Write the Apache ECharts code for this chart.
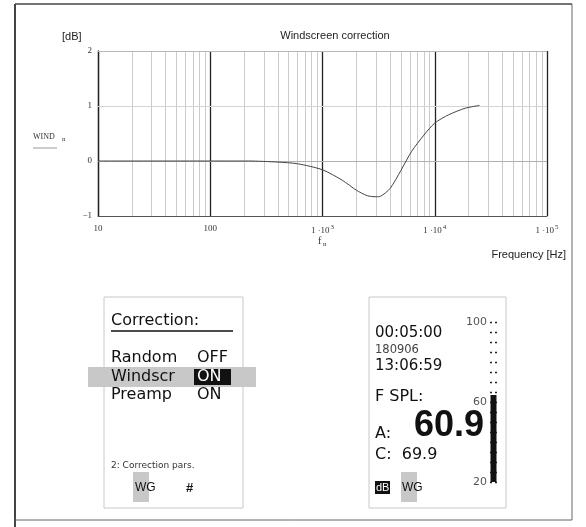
<!DOCTYPE html>
<html><head><meta charset="utf-8">
<script src="https://cdn.jsdelivr.net/npm/echarts@6/dist/echarts.min.js"></script>
<style>html,body{margin:0;padding:0;background:#fff}#c{width:586px;height:527px}</style>
</head><body><div id="c"></div>
<script>
// ---- data ----
const freqHz = [10, 100, 220, 400, 600, 1000, 1500, 2000, 2500, 3000, 3300, 4000, 5000, 6200, 8000, 10000, 13300, 18700, 25000];
const windDb = [0, 0, 0, -0.02, -0.05, -0.16, -0.35, -0.53, -0.63, -0.65, -0.64, -0.50, -0.17, 0.17, 0.47, 0.69, 0.84, 0.96, 1.01];
const minorGridHz = [20,30,40,50,60,70,80,90, 200,300,400,500,600,700,800,900,
  2000,3000,4000,5000,6000,7000,8000,9000, 20000,30000,40000,50000,60000,70000,80000,90000];
const yGridDb = [0, 1, 2];
const yTickLabels = ['\u22121', '0', '1', '2'];
const meterCategory = ['SPL'];
const meterLevel = [63.5];
const meterTickLabels = [20, 60, 100];

const serif = '"Liberation Serif", "DejaVu Serif", serif';
const sans = '"Liberation Sans", Arial, sans-serif';
const lcd = '"DejaVu Sans", Verdana, sans-serif';

const chart = echarts.init(document.getElementById('c'), null, {renderer: 'canvas'});

function txt(x, y, text, style, extra) {
  return Object.assign({type: 'text', x: x, y: y, z: 10,
    style: Object.assign({text: text, fill: '#111', font: '16px ' + lcd, textVerticalAlign: 'middle'}, style)}, extra || {});
}
function rect(x, y, w, h, style, z) {
  return {type: 'rect', shape: {x: x, y: y, width: w, height: h}, z: z || 5, style: style};
}
function line(x1, y1, x2, y2, style, z) {
  return {type: 'line', shape: {x1: x1, y1: y1, x2: x2, y2: y2}, z: z || 6, style: style};
}
const yGridColors = ['#b0b0b0', '#d4d4d4', '#b8b8b8'];

const option = {
  backgroundColor: '#fff',
  animation: false,
  grid: [
    {left: 98, right: 39, top: 51, bottom: 311},
    {left: 490, width: 7, top: 322, height: 160}
  ],
  xAxis: [
    {
      type: 'log', logBase: 10, min: 10, max: 100000, gridIndex: 0,
      axisLine: {show: true, onZero: false, lineStyle: {color: '#555', width: 1.2}},
      axisTick: {show: false},
      splitLine: {show: true, lineStyle: {color: '#222', width: 1.3}},
      axisLabel: {
        margin: 8,
        formatter: function (v) {
          if (v === 10) return '{a|10}';
          if (v === 100) return '{a|100}';
          return '{a|1 \u00b710}{s|' + Math.round(Math.log10(v)) + '}';
        },
        rich: {
          a: {fontFamily: serif, fontSize: 9, color: '#333'},
          s: {fontFamily: serif, fontSize: 7, color: '#333', padding: [0, 0, 7, 1]}
        }
      }
    },
    {type: 'category', gridIndex: 1, data: meterCategory, show: false}
  ],
  yAxis: [
    {
      type: 'value', min: -1, max: 2, interval: 1, gridIndex: 0,
      axisLine: {show: true, lineStyle: {color: '#222', width: 1.3}},
      axisTick: {show: false},
      splitLine: {show: false},
      axisLabel: {
        margin: 6, fontFamily: serif, fontSize: 9, color: '#333',
        formatter: function (v) { return yTickLabels[Math.round(v) + 1]; }
      }
    },
    {
      type: 'value', min: 20, max: 100, interval: 5, gridIndex: 1,
      axisLine: {show: false},
      splitLine: {show: false},
      axisTick: {show: true, inside: true, length: 7, lineStyle: {color: '#222', width: 1.3, type: [2, 3]}},
      axisLabel: {
        margin: 3, fontFamily: lcd, fontSize: 11, color: '#555',
        formatter: function (v) { return meterTickLabels.indexOf(v) >= 0 ? String(v) : ''; }
      }
    }
  ],
  series: [
    {
      type: 'line', xAxisIndex: 0, yAxisIndex: 0, data: [], z: 1, silent: true,
      markLine: {
        silent: true, symbol: 'none', animation: false,
        label: {show: false},
        lineStyle: {color: '#cbcbcb', width: 1, type: 'solid'},
        data: minorGridHz.map(function (f) { return {xAxis: f}; }).concat(
          yGridDb.map(function (d, i) { return {yAxis: d, lineStyle: {color: yGridColors[i], width: 1, type: 'solid'}}; }))
      }
    },
    {
      type: 'line', xAxisIndex: 0, yAxisIndex: 0, z: 5,
      data: freqHz.map(function (f, i) { return [f, windDb[i]]; }),
      showSymbol: false, smooth: 0.25,
      lineStyle: {color: '#444', width: 1}
    },
    {
      type: 'bar', xAxisIndex: 1, yAxisIndex: 1, data: meterLevel,
      barWidth: 6, itemStyle: {color: '#111'}, z: 2
    }
  ],
  graphic: [
    // outer frame
    line(15, 4, 15, 527, {stroke: '#444', lineWidth: 2}),
    line(15, 4, 572, 4, {stroke: '#444', lineWidth: 1.5}),
    line(572, 4, 572, 520, {stroke: '#666', lineWidth: 1}),
    line(15, 520, 572, 520, {stroke: '#666', lineWidth: 1}),
    // chart texts
    txt(335, 36, 'Windscreen correction', {font: '11px ' + sans, fill: '#222', textAlign: 'center'}),
    txt(62, 37, '[dB]', {font: '11px ' + sans, fill: '#222'}),
    txt(33, 137, 'WIND', {font: '8px ' + serif, fill: '#333'}),
    txt(62, 139, 'n', {font: '7px ' + serif, fill: '#333'}),
    line(33, 148, 57, 148, {stroke: '#999', lineWidth: 1}),
    txt(318, 241, 'f', {font: '10px ' + serif, fill: '#333'}),
    txt(323, 244, 'n', {font: '7px ' + serif, fill: '#333'}),
    txt(566, 255, 'Frequency [Hz]', {font: '11px ' + sans, fill: '#222', textAlign: 'right'}),

    // left LCD panel
    rect(104, 297, 139, 211, {fill: 'none', stroke: '#c8c8c8', lineWidth: 1}, 4),
    txt(111, 321, 'Correction:', {font: '16px ' + lcd}),
    line(111, 331, 233, 331, {stroke: '#111', lineWidth: 1.5}),
    rect(88, 367, 168, 20, {fill: '#c8c8c8'}, 3),
    txt(111, 358, 'Random', {}),
    txt(197, 358, 'OFF', {}),
    txt(111, 377, 'Windscr', {}),
    rect(194, 369, 37, 16, {fill: '#111'}, 7),
    txt(197, 377, 'ON', {fill: '#fff'}),
    txt(111, 395, 'Preamp', {}),
    txt(197, 395, 'ON', {}),
    txt(111, 466, '2: Correction pars.', {font: '9px ' + lcd, fill: '#333'}),
    rect(133, 472, 16, 30, {fill: '#c8c8c8'}, 3),
    txt(135, 488, 'WG', {font: '12px ' + sans}),
    txt(186, 488, '#', {font: 'bold 13px ' + sans}),

    // right LCD panel
    rect(369, 297, 137, 211, {fill: 'none', stroke: '#c8c8c8', lineWidth: 1}, 4),
    txt(375, 333, '00:05:00', {font: '15px ' + lcd}),
    txt(375, 350, '180906', {font: '11.5px ' + lcd, fill: '#444'}),
    txt(375, 366, '13:06:59', {font: '15px ' + lcd}),
    txt(375, 397, 'F SPL:', {font: '16px ' + lcd}),
    txt(375, 434, 'A:', {font: '16px ' + lcd}),
    txt(484, 426, '60.9', {font: 'bold 36px ' + sans, textAlign: 'right'}),
    txt(375, 455, 'C:  69.9', {font: '16px ' + lcd}),
    rect(375, 481, 15, 13, {fill: '#111'}, 6),
    txt(376, 488, 'dB', {font: '11px ' + sans, fill: '#fff'}),
    rect(401, 472, 16, 30, {fill: '#c8c8c8'}, 3),
    txt(402, 488, 'WG', {font: '12px ' + sans})
  ]
};
chart.setOption(option);
</script>
</body></html>
